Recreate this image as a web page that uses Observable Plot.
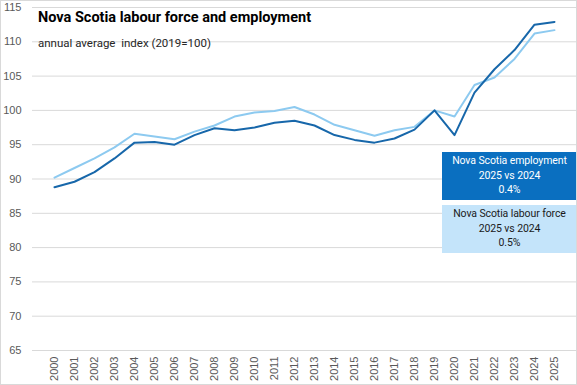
<!DOCTYPE html>
<html>
<head>
<meta charset="utf-8">
<script src="https://cdn.jsdelivr.net/npm/d3@7"></script>
<script src="https://cdn.jsdelivr.net/npm/@observablehq/plot@0.6"></script>
<style>
  html, body { margin: 0; padding: 0; background: #fff; }
  #wrap { position: relative; width: 577px; height: 385px; overflow: hidden; }
  #border { position: absolute; left: 0; top: 0; width: 577px; height: 385px; box-sizing: border-box; border: 1px solid #d9d9d9; pointer-events: none; }
  .title { position: absolute; left: 38px; top: 9px; font-family: Roboto, sans-serif; font-weight: bold; font-size: 14.5px; color: #000; white-space: pre; }
  .subtitle { position: absolute; left: 38px; top: 36px; font-family: Roboto, sans-serif; font-size: 11.5px; color: #262626; white-space: pre; }
  .box { position: absolute; left: 442px; width: 135px; height: 48px; box-sizing: border-box; padding-top: 2px; font-family: Roboto, sans-serif; font-size: 10.5px; line-height: 14.5px; text-align: center; letter-spacing: -0.1px; }
  .box.emp { top: 152px; background: #0a6fc0; color: #fff; }
  .box.lf { top: 205px; background: #c4e4fa; color: #1a1a1a; }
</style>
</head>
<body>
<div id="wrap"></div>
<script>
const years = ["2000","2001","2002","2003","2004","2005","2006","2007","2008","2009","2010","2011","2012","2013","2014","2015","2016","2017","2018","2019","2020","2021","2022","2023","2024","2025"];
const employment = [88.8,89.6,91.0,93.0,95.3,95.4,95.0,96.4,97.4,97.1,97.5,98.2,98.5,97.8,96.4,95.7,95.3,95.9,97.2,100.0,96.4,102.6,106.0,108.8,112.5,112.9];
const labourForce = [90.2,91.6,93.0,94.6,96.6,96.2,95.8,96.9,97.8,99.1,99.7,99.9,100.5,99.4,97.9,97.1,96.3,97.1,97.6,100.0,99.1,103.7,104.8,107.5,111.2,111.7];
const yTicks = [65,70,75,80,85,90,95,100,105,110,115];
const seriesNames = ["Nova Scotia employment", "Nova Scotia labour force"];
const seriesColors = ["#1767aa", "#8dcaf0"];
const title = "Nova Scotia labour force and employment";
const subtitle = "annual average  index (2019=100)";
const boxEmp = ["Nova Scotia employment", "2025 vs 2024", "0.4%"];
const boxLf = ["Nova Scotia labour force", "2025 vs 2024", "0.5%"];

const rows = [];
years.forEach((y, i) => {
  rows.push({year: y, value: employment[i], series: seriesNames[0]});
  rows.push({year: y, value: labourForce[i], series: seriesNames[1]});
});

const chart = Plot.plot({
  width: 577,
  height: 385,
  marginLeft: 32,
  marginRight: 1,
  marginTop: 7,
  marginBottom: 35,
  style: {fontFamily: "'Liberation Sans', Arial, sans-serif", fontSize: "11px", color: "#595959", background: "#fff"},
  x: {type: "point", domain: years, padding: 0.5, label: null, tickSize: 0, tickPadding: 6, tickRotate: -90},
  y: {domain: [65, 115], ticks: yTicks, label: null, tickSize: 0, tickPadding: 11},
  color: {domain: seriesNames, range: seriesColors},
  marks: [
    Plot.ruleY(yTicks, {stroke: "#d9d9d9", strokeWidth: 1}),
    Plot.line(rows.filter(d => d.series === seriesNames[1]), {x: "year", y: "value", stroke: "series", strokeWidth: 2, curve: "linear"}),
    Plot.line(rows.filter(d => d.series === seriesNames[0]), {x: "year", y: "value", stroke: "series", strokeWidth: 2, curve: "linear"})
  ]
});

const wrap = document.getElementById("wrap");
wrap.appendChild(chart);
const t = document.createElement("div"); t.className = "title"; t.textContent = title; wrap.appendChild(t);
const s = document.createElement("div"); s.className = "subtitle"; s.textContent = subtitle; wrap.appendChild(s);
[[boxEmp, "emp"], [boxLf, "lf"]].forEach(([lines, cls]) => {
  const b = document.createElement("div");
  b.className = "box " + cls;
  b.innerHTML = lines.map(l => `<div>${l}</div>`).join("");
  wrap.appendChild(b);
});
const br = document.createElement("div"); br.id = "border"; wrap.appendChild(br);
</script>
</body>
</html>
